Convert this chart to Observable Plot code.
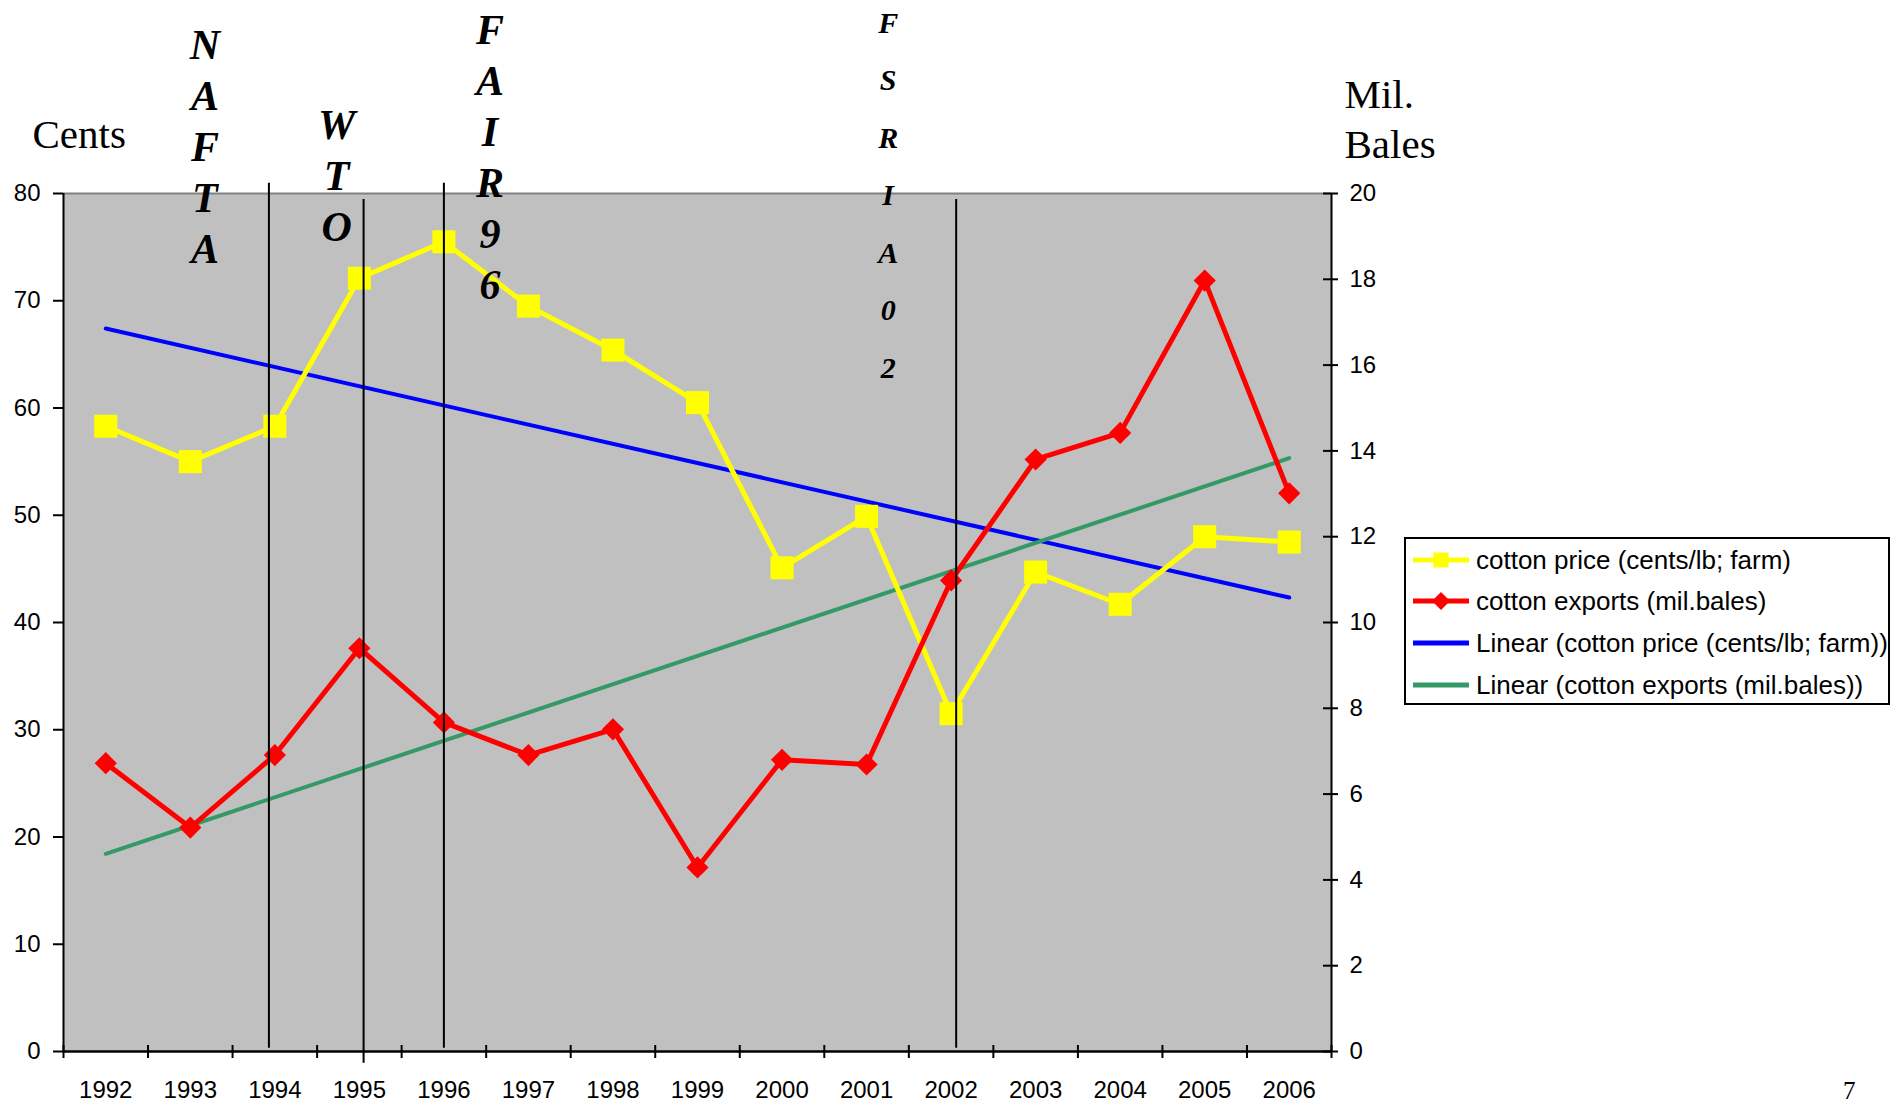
<!DOCTYPE html>
<html>
<head>
<meta charset="utf-8">
<script src="https://cdn.jsdelivr.net/npm/d3@7"></script>
<script src="https://cdn.jsdelivr.net/npm/@observablehq/plot@0.6"></script>
<style>
  body { margin: 0; background: #fff; }
  #wrap { position: relative; width: 1895px; height: 1104px; overflow: hidden; background: #fff; }
  #legend { position: absolute; left: 1404px; top: 537px; width: 486px; height: 168px; box-sizing: border-box;
            border: 2px solid #000; background: #fff; font-family: "Liberation Sans", Arial, sans-serif; font-size: 26px; color: #000; }
  #legend .row { position: absolute; left: 7px; height: 32px; display: flex; align-items: center; white-space: nowrap; }
  #legend .row svg { display: block; margin-right: 7px; }
  #page { position: absolute; left: 1843px; top: 1078px; line-height: 1; font-family: "Liberation Serif", "Times New Roman", serif; font-size: 25px; }
</style>
</head>
<body>
<div id="wrap">
  <div id="chart"></div>
  <div id="legend"></div>
  <div id="page">7</div>
</div>
<script>
// ---- data ----
const years = [1992, 1993, 1994, 1995, 1996, 1997, 1998, 1999, 2000, 2001, 2002, 2003, 2004, 2005, 2006];
const cottonPrice = [58.3, 55.0, 58.3, 72.1, 75.5, 69.5, 65.4, 60.5, 45.1, 49.9, 31.5, 44.7, 41.7, 48.0, 47.5]; // cents/lb
const cottonExports = [6.72, 5.22, 6.91, 9.40, 7.67, 6.91, 7.51, 4.29, 6.80, 6.69, 10.98, 13.80, 14.42, 17.97, 13.01]; // mil. bales
const leftTicks = [0, 10, 20, 30, 40, 50, 60, 70, 80];
const rightTicks = [0, 2, 4, 6, 8, 10, 12, 14, 16, 18, 20];
const seriesNames = ["cotton price (cents/lb; farm)", "cotton exports (mil.bales)"];
const events = ["NAFTA", "WTO", "FAIR96", "FSRIA02"];
const eventYear = [1993.93, 1995.05, 1996.0, 2002.06];
const eventTop = [80.96, 79.44, 80.96, 79.44];
const eventBottom = [0.31, -1.09, 0.31, 0.31];

// ---- derived ----
const ratio = leftTicks[leftTicks.length - 1] / rightTicks[rightTicks.length - 1];
const rows = years.map((year, i) => ({year, price: cottonPrice[i], exp: cottonExports[i] * ratio}));
const x0 = years[0] - 0.5, x1 = years[years.length - 1] + 0.5;
const boundaries = d3.range(x0, x1 + 0.001, 1);
const eventRows = events.map((name, i) => ({name, x: eventYear[i], y1: eventTop[i], y2: eventBottom[i]}));

const colors = {price: "#FFFF00", exp: "#FF0000", priceTrend: "#0000FF", expTrend: "#339966"};
const serif = "'Liberation Serif', 'Times New Roman', serif";

// event label layout: [dx, dy(last baseline), fontSize, lineHeight]
const eventLayout = [[-64, 69, 42, 51 / 42], [-27, 47, 42, 51 / 42], [46, 105, 42, 51 / 42], [-68, 184, 30, 57.5 / 30]];

const eventLabels = eventRows.map((e, i) => {
  const [dx, dy, fs, lh] = eventLayout[i];
  return Plot.text([e], {
    x: "x", text: d => d.name.split("").join("\n"), frameAnchor: "top", lineAnchor: "bottom",
    textAnchor: "middle", dx, dy, fontSize: fs, lineHeight: lh, fontFamily: serif,
    fontWeight: "bold", fontStyle: "italic", fill: "#000"
  });
});

const chart = Plot.plot({
  width: 1895, height: 1104,
  marginLeft: 63, marginRight: 564, marginTop: 193, marginBottom: 53,
  x: {type: "linear", domain: [x0, x1], label: null},
  y: {domain: [leftTicks[0], leftTicks[leftTicks.length - 1]], label: null},
  style: {fontFamily: "'Liberation Sans', Arial, sans-serif", fontSize: "24px", color: "#000", background: "#fff", overflow: "visible"},
  marks: [
    Plot.frame({fill: "#C0C0C0", stroke: null}),
    Plot.ruleY([leftTicks[leftTicks.length - 1]], {stroke: "#808080", strokeWidth: 2}),
    Plot.linearRegressionY(rows, {x: "year", y: "price", stroke: colors.priceTrend, strokeWidth: 4, ci: 0}),
    Plot.linearRegressionY(rows, {x: "year", y: "exp", stroke: colors.expTrend, strokeWidth: 4, ci: 0}),
    Plot.line(rows, {x: "year", y: "price", stroke: colors.price, strokeWidth: 5}),
    Plot.dot(rows, {x: "year", y: "price", symbol: "square", r: 13, fill: colors.price, stroke: null}),
    Plot.line(rows, {x: "year", y: "exp", stroke: colors.exp, strokeWidth: 5}),
    Plot.dot(rows, {x: "year", y: "exp", symbol: "diamond2", r: 10, fill: colors.exp, stroke: null}),
    // axis lines
    Plot.ruleX([x0], {stroke: "#000", strokeWidth: 2}),
    Plot.ruleX([x1], {stroke: "#000", strokeWidth: 2}),
    Plot.ruleY([0], {stroke: "#000", strokeWidth: 2.5}),
    // tick marks
    Plot.ruleY(leftTicks, {y: d => d, x1: x0, x2: x0, insetLeft: -10, stroke: "#000", strokeWidth: 2}),
    Plot.ruleY(rightTicks.map(d => d * ratio), {y: d => d, x1: x1, x2: x1, insetLeft: -8, insetRight: -7, stroke: "#000", strokeWidth: 2}),
    Plot.ruleX(boundaries, {x: d => d, y1: 0, y2: 0, insetTop: -6, insetBottom: -7, stroke: "#000", strokeWidth: 2}),
    // tick labels
    Plot.axisY(leftTicks, {anchor: "left", tickSize: 0, tickPadding: 23, label: null}),
    Plot.axisY(rightTicks.map(d => d * ratio), {anchor: "right", tickSize: 0, tickPadding: 18, tickFormat: d => String(d / ratio), label: null}),
    Plot.axisX(years, {anchor: "bottom", tickSize: 0, tickPadding: 29, tickFormat: d => String(d), label: null}),
    // event lines
    Plot.ruleX(eventRows, {x: "x", y1: "y1", y2: "y2", stroke: "#000", strokeWidth: 2}),
    ...eventLabels,
    // axis titles
    Plot.text(["Cents"], {frameAnchor: "top-left", textAnchor: "start", lineAnchor: "bottom", dx: -31, dy: -46, fontSize: 41, fontFamily: serif, fill: "#000"}),
    Plot.text(["Mil.\nBales"], {frameAnchor: "top-right", textAnchor: "start", lineAnchor: "bottom", dx: 13, dy: -36, fontSize: 41, lineHeight: 50 / 41, fontFamily: serif, fill: "#000"})
  ]
});
document.getElementById("chart").appendChild(chart);

// ---- legend ----
const legendItems = [
  {label: seriesNames[0], color: colors.price, marker: "square"},
  {label: seriesNames[1], color: colors.exp, marker: "diamond"},
  {label: `Linear (${seriesNames[0]})`, color: colors.priceTrend, marker: null},
  {label: `Linear (${seriesNames[1]})`, color: colors.expTrend, marker: null}
];
const rowCenters = [23, 64, 106, 148];
const legend = d3.select("#legend");
legendItems.forEach((item, i) => {
  const row = legend.append("div").attr("class", "row").style("top", `${rowCenters[i] - 2 - 16}px`);
  const svg = row.append("svg").attr("width", 56).attr("height", 20);
  svg.append("line").attr("x1", 0).attr("x2", 56).attr("y1", 10).attr("y2", 10).attr("stroke", item.color).attr("stroke-width", 5);
  if (item.marker === "square") svg.append("rect").attr("x", 20.5).attr("y", 2.5).attr("width", 15).attr("height", 15).attr("fill", item.color);
  if (item.marker === "diamond") svg.append("path").attr("d", "M28,1 L37,10 L28,19 L19,10 Z").attr("fill", item.color);
  row.append("span").text(item.label);
});
</script>
</body>
</html>
